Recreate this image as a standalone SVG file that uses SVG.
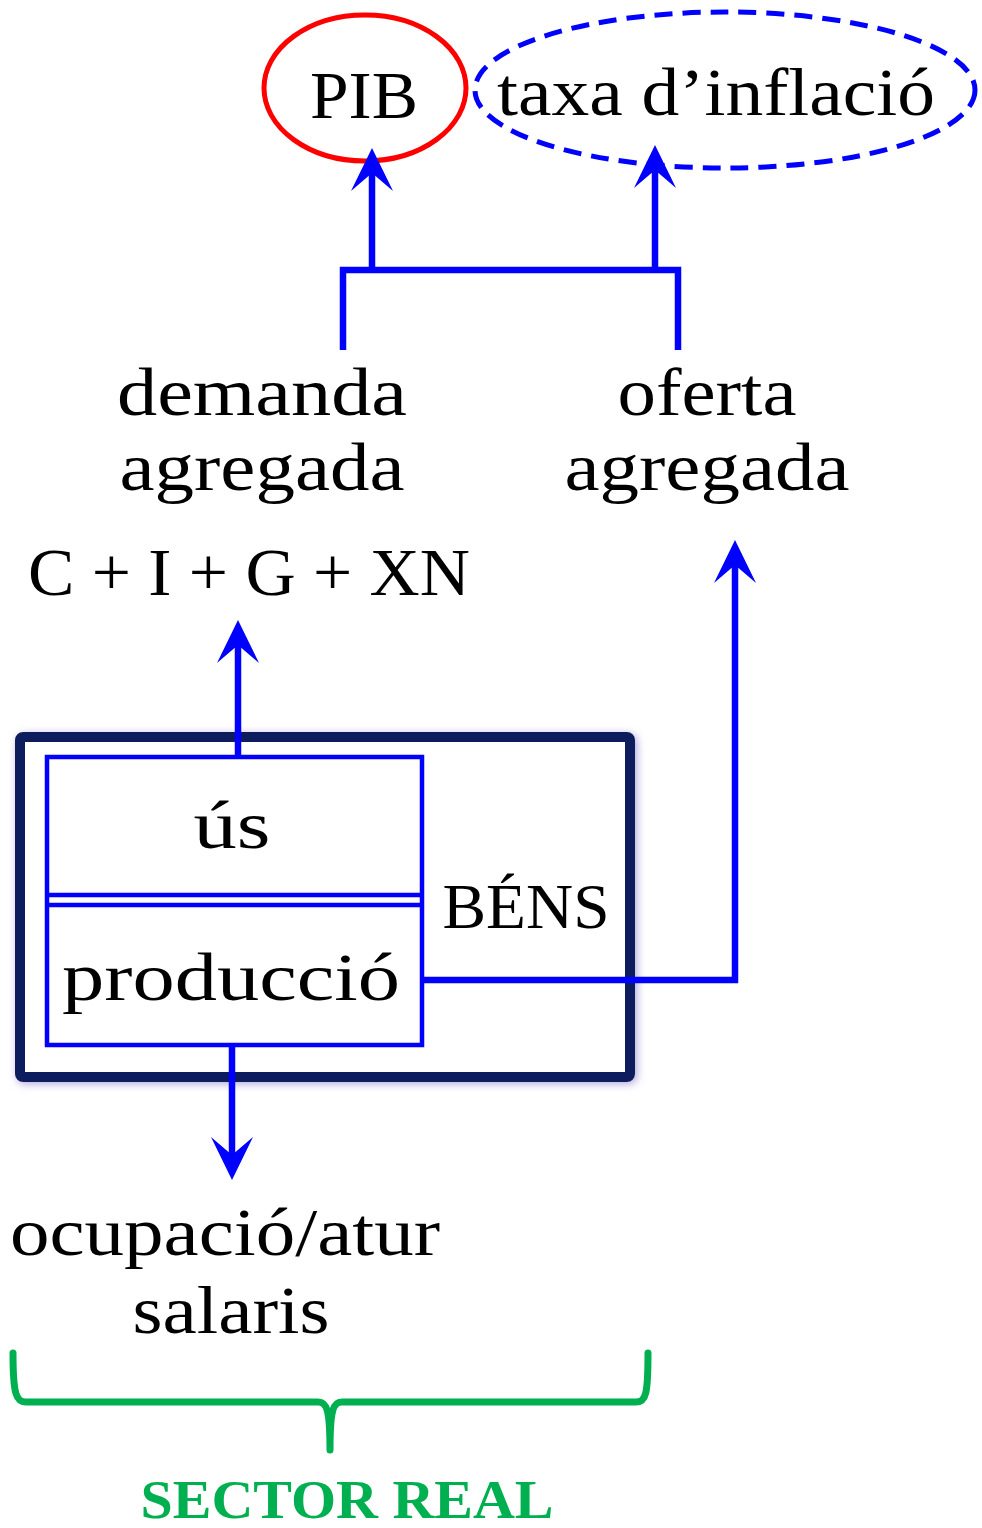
<svg xmlns="http://www.w3.org/2000/svg" width="982" height="1528" viewBox="0 0 982 1528">
  <style>
    .t { font-family: "Liberation Serif", "DejaVu Serif", serif; fill: #000; text-anchor: middle; }
    .big { font-size: 68px; }
    .conn { stroke: #0000ff; stroke-width: 6.5; fill: none; }
    .inner { stroke: #0000ff; stroke-width: 4.5; fill: #fff; }
    .green { font-family: "Liberation Serif", serif; font-weight: bold; fill: #00b050; font-size: 55px; text-anchor: middle; }
  </style>
  <defs>
    <marker id="arr" markerUnits="userSpaceOnUse" viewBox="-20 -23 47 46" markerWidth="47" markerHeight="46" refX="0" refY="0" orient="auto" overflow="visible">
      <path d="M25,0 L-18,-21 L0,0 L-18,21 Z" fill="#0000ff"/>
    </marker>
    <filter id="glow" x="-10%" y="-10%" width="120%" height="120%">
      <feDropShadow dx="2" dy="2" stdDeviation="4" flood-color="#9080d0" flood-opacity="0.7"/>
    </filter>
  </defs>

  <g id="pib">
    <ellipse cx="365" cy="88" rx="101" ry="73" fill="none" stroke="#ff0000" stroke-width="5"/>
    <text class="t big" x="364" y="118" textLength="108" lengthAdjust="spacingAndGlyphs">PIB</text>
  </g>

  <g id="inflacio">
    <ellipse cx="725" cy="90" rx="250" ry="78" fill="none" stroke="#0000ff" stroke-width="5" stroke-dasharray="18 10"/>
    <text class="t big" x="716" y="115" textLength="438" lengthAdjust="spacingAndGlyphs">taxa d’inflació</text>
  </g>

  <g id="demanda">
    <text class="t big" x="262" y="415" textLength="290" lengthAdjust="spacingAndGlyphs">demanda</text>
    <text class="t big" x="262" y="490" textLength="285" lengthAdjust="spacingAndGlyphs">agregada</text>
  </g>

  <g id="oferta">
    <text class="t big" x="707" y="415" textLength="179" lengthAdjust="spacingAndGlyphs">oferta</text>
    <text class="t big" x="707" y="490" textLength="285" lengthAdjust="spacingAndGlyphs">agregada</text>
  </g>

  <g id="formula">
    <text class="t big" x="249" y="595" textLength="442" lengthAdjust="spacingAndGlyphs">C + I + G + XN</text>
  </g>

  <g id="bens">
    <rect x="20" y="737" width="610" height="340" rx="3" fill="#fff" stroke="#0c1f5c" stroke-width="10" filter="url(#glow)"/>
    <rect class="inner" x="47" y="757" width="375" height="288"/>
    <line x1="47" y1="895" x2="422" y2="895" stroke="#0000ff" stroke-width="4.5"/>
    <line x1="47" y1="905" x2="422" y2="905" stroke="#0000ff" stroke-width="4.5"/>
    <text class="t" x="526" y="928" font-size="64" textLength="167" lengthAdjust="spacingAndGlyphs">BÉNS</text>
  </g>

  <g id="us">
    <text class="t big" x="232" y="848" textLength="77" lengthAdjust="spacingAndGlyphs">ús</text>
  </g>

  <g id="produccio">
    <text class="t big" x="231" y="1000" textLength="338" lengthAdjust="spacingAndGlyphs">producció</text>
  </g>

  <g id="ocupacio">
    <text class="t big" x="225" y="1255" textLength="430" lengthAdjust="spacingAndGlyphs">ocupació/atur</text>
    <text class="t big" x="231" y="1333" textLength="197" lengthAdjust="spacingAndGlyphs">salaris</text>
  </g>

  <g id="connectors">
    <polyline class="conn" points="343,350 343,270 678,270 678,350"/>
    <line class="conn" x1="372" y1="270" x2="372" y2="173" marker-end="url(#arr)"/>
    <line class="conn" x1="655" y1="270" x2="655" y2="170" marker-end="url(#arr)"/>
    <line class="conn" x1="238" y1="757" x2="238" y2="645" marker-end="url(#arr)"/>
    <polyline class="conn" points="424,980 735,980 735,565" marker-end="url(#arr)"/>
    <line class="conn" x1="232" y1="1045" x2="232" y2="1155" marker-end="url(#arr)"/>
  </g>

  <g id="sector-real">
    <path d="M 13 1353 C 13 1394 16 1402 26 1402 L 318 1402 C 327 1402 330 1410 330 1450 C 330 1410 333 1402 342 1402 L 636 1402 C 646 1402 648 1394 648 1353" fill="none" stroke="#00b050" stroke-width="7" stroke-linecap="round" stroke-linejoin="round"/>
    <text class="green" x="347" y="1518" textLength="413" lengthAdjust="spacingAndGlyphs">SECTOR REAL</text>
  </g>
</svg>
